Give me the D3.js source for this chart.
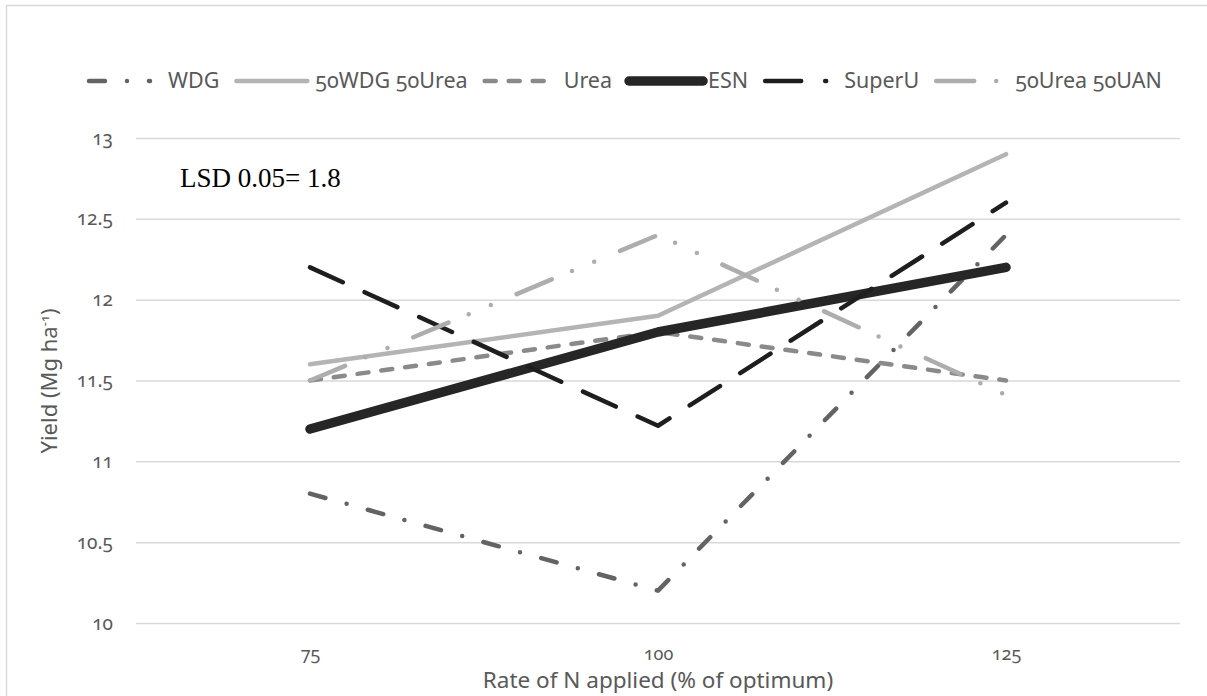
<!DOCTYPE html>
<html><head><meta charset="utf-8">
<script src="https://cdn.jsdelivr.net/npm/d3@7"></script>
<style>
body{margin:0;background:#fff;}
text{font-family:"Noto Sans",sans-serif;font-variant-numeric:oldstyle-nums;}
</style></head>
<body><svg id="c" width="1207" height="696"></svg>
<script>
const categories = ["75","100","125"];
const seriesNames = ["WDG","50WDG 50Urea","Urea","ESN","SuperU","50Urea 50UAN"];
const WDG = [10.8, 10.2, 12.4];
const WDG50Urea50 = [11.6, 11.9, 12.9];
const Urea = [11.5, 11.8, 11.5];
const ESN = [11.2, 11.8, 12.2];
const SuperU = [12.2, 11.22, 12.6];
const Urea50UAN50 = [11.5, 12.4, 11.41];
const yTicks = [10, 10.5, 11, 11.5, 12, 12.5, 13];

const styles = [
  {color:"#636363", width:4.5, dash:"16 22 0 22"},
  {color:"#b4b4b4", width:4.5, dash:null},
  {color:"#8a8a8a", width:4.5, dash:"11 13"},
  {color:"#262626", width:9.5, dash:null},
  {color:"#1e1e1e", width:4.5, dash:"36 24"},
  {color:"#adadad", width:4.5, dash:"38 22 0 24 0 28"}
];
const legendLen = [61, 71, 63, 74, 61, 61];
const seriesValues = [WDG, WDG50Urea50, Urea, ESN, SuperU, Urea50UAN50];

const svg = d3.select("#c");
svg.append("rect").attr("x",6.5).attr("y",5.5).attr("width",1220).attr("height",720)
  .attr("fill","none").attr("stroke","#d9d9d9").attr("stroke-width",1.5);

const x = d3.scalePoint().domain(categories).range([136,1180]).padding(0.5);
const y = d3.scaleLinear().domain([10,13]).range([623,138]);

// gridlines + y ticks
const yAxis = d3.axisLeft(y).tickValues(yTicks).tickSize(-(1180-136)).tickFormat(d=>d3.format("")(d)).tickPadding(23);
const gy = svg.append("g").attr("transform","translate(136,0)").call(yAxis);
gy.select(".domain").remove();
gy.selectAll(".tick line").attr("stroke","#d9d9d9").attr("stroke-width",1.5);
gy.selectAll(".tick text").attr("fill","#595959").style("font-size","19px");

const xAxis = d3.axisBottom(x).tickSize(0).tickPadding(24);
const gx = svg.append("g").attr("transform","translate(0,623)").call(xAxis);
gx.select(".domain").remove();
gx.selectAll(".tick text").attr("fill","#595959").style("font-size","18px");

const line = d3.line().x((d,i)=>x(categories[i])).y(d=>y(d));
seriesValues.forEach((vals,k)=>{
  const s = styles[k];
  const p = svg.append("path").datum(vals).attr("d",line)
    .attr("fill","none").attr("stroke",s.color).attr("stroke-width",s.width)
    .attr("stroke-linecap","round").attr("stroke-linejoin","round");
  if(s.dash) p.attr("stroke-dasharray",s.dash);
});

// axis titles
svg.append("text").attr("x",658).attr("y",688).attr("text-anchor","middle")
  .attr("fill","#595959").style("font-size","22.5px").style("font-variant-numeric","normal")
  .text("Rate of N applied (% of optimum)");
const yt = svg.append("text").attr("transform","translate(57,381) rotate(-90)").attr("text-anchor","middle")
  .attr("fill","#595959").style("font-size","22px");
yt.append("tspan").text("Yield (Mg ha");
yt.append("tspan").attr("dy",-8).style("font-size","13px").text("-1");
yt.append("tspan").attr("dy",8).text(")");

// LSD annotation
svg.append("text").attr("x",180).attr("y",187).attr("fill","#000")
  .style("font-family","'Liberation Serif','Times New Roman',serif").style("font-size","27px")
  .text("LSD 0.05= 1.8");

// legend
let lx = 89;
const ly = 81;
seriesNames.forEach((name,k)=>{
  const s = styles[k];
  const len = legendLen[k];
  const l = svg.append("line").attr("x1",lx).attr("x2",lx+len).attr("y1",ly).attr("y2",ly)
    .attr("stroke",s.color).attr("stroke-width",s.width).attr("stroke-linecap","round");
  if(s.dash) l.attr("stroke-dasharray",s.dash);
  const t = svg.append("text").attr("x",lx+79).attr("y",ly+7).attr("fill","#595959")
    .style("font-size","21.5px").text(name);
  lx = lx + 79 + t.node().getComputedTextLength() + 17;
});
</script></body></html>
